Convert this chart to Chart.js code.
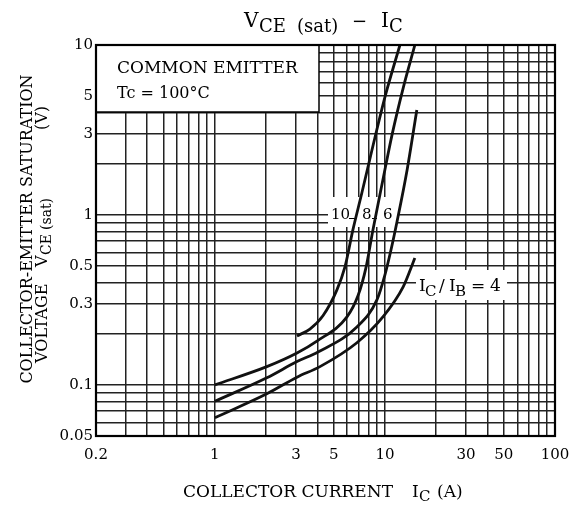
<!DOCTYPE html>
<html>
<head>
<meta charset="utf-8">
<script src="https://cdn.jsdelivr.net/npm/chart.js@4.4.1/dist/chart.umd.min.js"></script>
<style>
  html, body { margin:0; padding:0; background:#fff; }
  #wrap { width:581px; height:508px; position:relative; }
</style>
</head>
<body>
<div id="wrap"><canvas id="c"></canvas></div>
<script>
// grid positions and labelled ticks
const xGrid = [0.2,0.3,0.4,0.5,0.6,0.7,0.8,0.9,1,2,3,4,5,6,7,8,9,10,20,30,40,50,60,70,80,90,100];
const xLabels = [0.2,1,3,5,10,30,50,100];
const yGrid = [0.05,0.06,0.07,0.08,0.09,0.1,0.2,0.3,0.4,0.5,0.6,0.7,0.8,0.9,1,2,3,4,5,6,7,8,9,10];
const yLabels = [0.05,0.1,0.3,0.5,1,3,5,10];

// IC (A) / VCE(sat) (V) per IC/IB ratio
const ic10  = [3.04, 3.62, 4.32, 5.22, 5.82, 6.48, 7.32, 8.39, 10.0, 12.25];
const vce10 = [0.194, 0.213, 0.255, 0.362, 0.494, 0.816, 1.35, 2.41, 4.94, 10];
const ic8   = [1.0, 2.02, 3.04, 3.98, 5.98, 6.94, 7.73, 8.50, 9.73, 11.0, 12.8, 15.0];
const vce8  = [0.1, 0.128, 0.154, 0.181, 0.251, 0.334, 0.488, 0.816, 1.61, 2.95, 5.58, 10];
const ic6   = [1.0, 2.02, 3.04, 4.04, 6.84, 8.97, 10.0, 10.85, 11.8, 13.5, 15.4];
const vce6  = [0.08, 0.11, 0.137, 0.156, 0.219, 0.316, 0.444, 0.622, 0.922, 1.84, 4.15];
const ic4   = [1.0, 2.02, 3.04, 4.15, 6.84, 9.73, 12.8, 15.0];
const vce4  = [0.064, 0.0885, 0.111, 0.128, 0.177, 0.251, 0.377, 0.558];

const FONT = '"DejaVu Serif", serif';
const pts = (xs, ys) => xs.map((x, i) => ({ x, y: ys[i] }));
const curve = (xs, ys) => ({
  data: pts(xs, ys), showLine:true, borderColor:'#111', borderWidth:2.8,
  pointRadius:0, cubicInterpolationMode:'monotone', fill:false,
});

function t(c, s, x, y, size) {
  c.font = size + 'px ' + FONT;
  c.fillText(s, x, y);
}

const decor = {
  id:'decor',
  beforeDatasetsDraw(chart) {
    const c = chart.ctx, a = chart.chartArea;
    c.save();
    c.fillStyle = '#fff';
    c.fillRect(328, 197, 70, 30);
    c.fillRect(416, 270, 91, 30);
    // condition box
    c.fillRect(a.left, a.top, 223, 67);
    c.strokeStyle = '#000'; c.lineWidth = 1.5;
    c.strokeRect(a.left, a.top, 223, 67);
    c.fillStyle = '#000'; c.textAlign = 'left'; c.textBaseline = 'alphabetic';
    t(c, 'COMMON EMITTER', 117, 73, 17);
    t(c, 'Tc = 100°C', 117, 98, 16);
    // ratio labels
    t(c, '10', 331, 219, 15);
    t(c, '8', 362, 219, 15);
    t(c, '6', 383, 219, 15);
    c.lineWidth = 1.2;
    c.beginPath();
    c.moveTo(349, 218.5); c.lineTo(355, 218.5);
    c.moveTo(372, 218.5); c.lineTo(377, 218.5);
    c.stroke();
    t(c, 'I', 419, 291, 17);
    t(c, 'C', 425, 296, 15);
    t(c, '/', 439, 291, 17);
    t(c, 'I', 449, 291, 17);
    t(c, 'B', 455, 296, 15);
    t(c, '=', 471, 291, 17);
    t(c, '4', 490, 291, 17);
    c.restore();
  },
  afterDatasetsDraw(chart) {
    const c = chart.ctx, a = chart.chartArea;
    c.save();
    c.strokeStyle = '#000'; c.lineWidth = 2.2;
    c.strokeRect(a.left, a.top, a.right - a.left, a.bottom - a.top);
    c.restore();
  },
  afterDraw(chart) {
    const c = chart.ctx;
    c.save();
    c.fillStyle = '#000'; c.textAlign = 'left'; c.textBaseline = 'alphabetic';
    // title
    t(c, 'V', 244, 27, 20);
    t(c, 'CE', 259, 32, 18);
    t(c, '(sat)', 297, 32, 18);
    t(c, '−', 352, 27, 18);
    t(c, 'I', 381, 27, 20);
    t(c, 'C', 389, 32, 18);
    // x title
    t(c, 'COLLECTOR CURRENT', 183, 497, 17);
    t(c, 'I', 412, 497, 17);
    t(c, 'C', 419, 501, 15);
    t(c, '(A)', 437, 497, 17);
    // y title, rotated
    c.rotate(-Math.PI / 2);
    c.textAlign = 'center';
    t(c, 'COLLECTOR-EMITTER SATURATION', -229, 32, 16);
    c.textAlign = 'left';
    t(c, 'VOLTAGE', -363, 47, 16);
    t(c, 'V', -267, 47, 16);
    t(c, 'CE', -255, 51, 14);
    t(c, '(sat)', -230, 51, 14);
    t(c, '(V)', -130, 47, 16);
    c.restore();
  }
};

const tickFont = { family:'DejaVu Serif', size:15 };

new Chart(document.getElementById('c'), {
  type:'scatter',
  data:{ datasets:[ curve(ic10, vce10), curve(ic8, vce8), curve(ic6, vce6), curve(ic4, vce4) ] },
  options:{
    responsive:true, maintainAspectRatio:false, animation:false,
    layout:{ padding:{ top:45, right:26, left:0, bottom:0 } },
    plugins:{ legend:{ display:false }, tooltip:{ enabled:false }, title:{ display:false } },
    scales:{
      x:{
        type:'logarithmic', min:0.2, max:100,
        afterBuildTicks: s => { s.ticks = xGrid.map(v => ({ value:v })); },
        afterFit: s => { s.height = 72; },
        ticks:{ autoSkip:false, maxRotation:0, padding:10, color:'#000', font:tickFont,
          callback: v => xLabels.includes(v) ? String(v) : '' },
        grid:{ color:'#222', lineWidth:1.5, drawTicks:false },
        border:{ display:false },
      },
      y:{
        type:'logarithmic', min:0.05, max:10,
        afterBuildTicks: s => { s.ticks = yGrid.map(v => ({ value:v })); },
        afterFit: s => { s.width = 96; },
        ticks:{ autoSkip:false, padding:3, color:'#000', font:tickFont,
          callback: v => yLabels.includes(v) ? String(v) : '' },
        grid:{ color:'#222', lineWidth:1.5, drawTicks:false },
        border:{ display:false },
      }
    }
  },
  plugins:[decor]
});
</script>
</body>
</html>
